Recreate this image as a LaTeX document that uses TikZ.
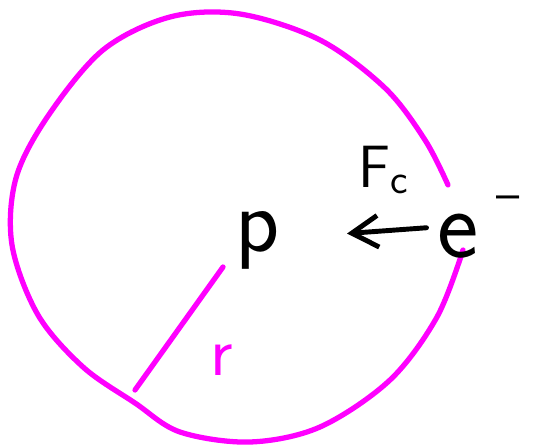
\documentclass[tikz,border=0pt]{standalone}
\usepackage{amsmath}
\usepackage{tikz}
\usetikzlibrary{arrows.meta}
\usetikzlibrary{positioning}
\usepackage{xcolor}
\definecolor{orbit}{RGB}{255,0,255}

\tikzset{
  hand/.style={font=\sffamily\fontsize{#1}{#1}\selectfont, inner sep=0pt},
  orbitline/.style={orbit, line width=3pt, line cap=round, line join=round},
  forcearrow/.style={line width=2.8pt, line cap=round, -{Straight Barb[length=15pt,width=18pt,line width=2.8pt]}}
}

\begin{document}
\begin{tikzpicture}[x=0.02cm, y=-0.02cm]
\useasboundingbox (0,0) rectangle (550,445);
\draw[orbitline] plot[smooth, tension=0.55] coordinates {
  (463,250) (437,317) (390,380) (320,427) (250,442) (180,432)
  (135,403) (83,367) (38,315) (12,245) (16,178) (48,116) (103,50)
  (170,17) (240,14) (320,40) (385,88) (425,140) (448,185)};
\node[hand=52] (proton) at (258,240) {p};
\node[hand=56, anchor=west] (electron) at (437,227) {e\hspace{10pt}\raisebox{0.48em}{\fontsize{28}{28}\selectfont --}};
\node[hand=34] (force) at (384,170) {F\textsubscript{c}};
\node[hand=40, orbit] (radius) at (222,360) {r};
\coordinate (centre) at (223,267);
\coordinate (rim) at (135,390);
\draw[forcearrow, shorten <=6pt, shorten >=38pt] (electron.west) -- (proton);
\draw[orbitline] (centre) -- (rim);
\end{tikzpicture}
\end{document}
